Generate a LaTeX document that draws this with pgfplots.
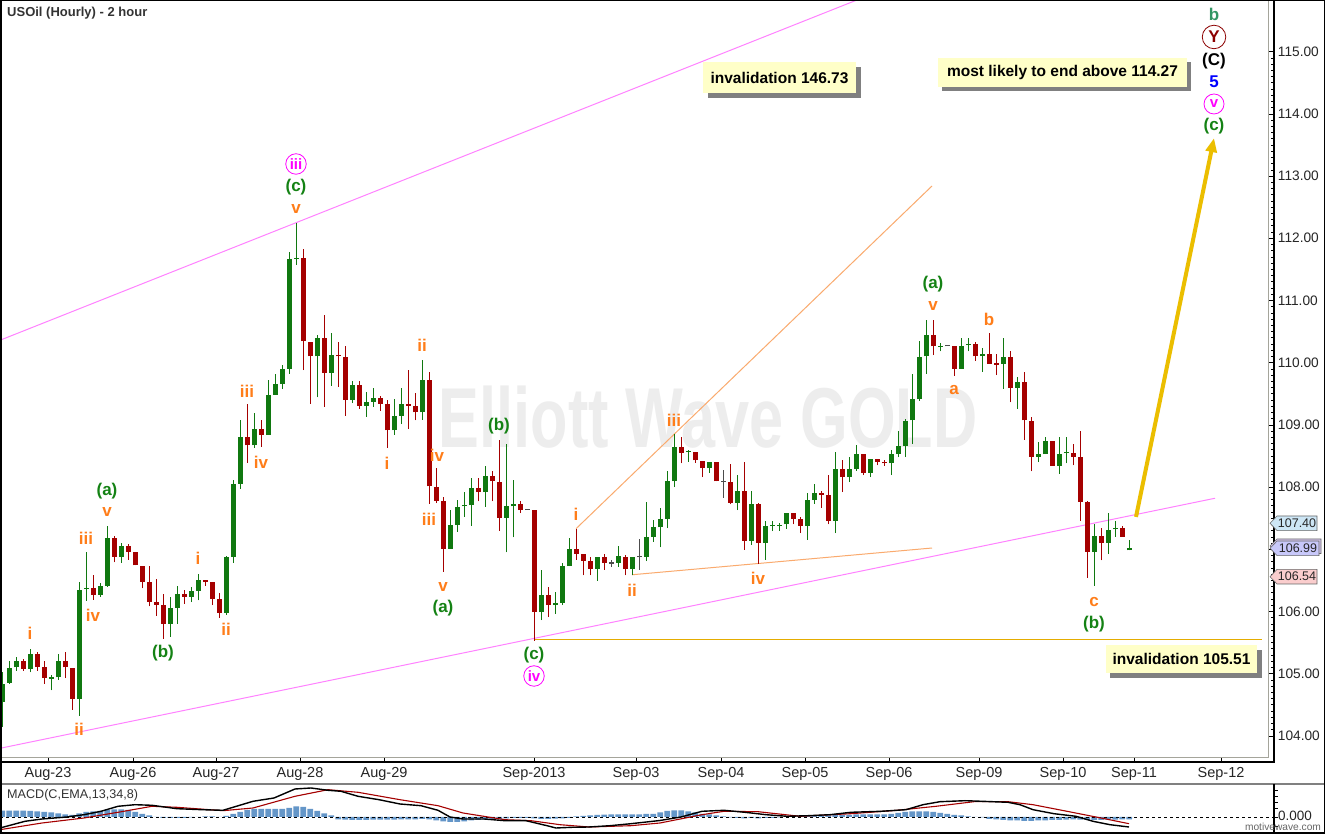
\documentclass[border=0pt]{standalone}
\usepackage{pgfplots}
\pgfplotsset{compat=1.18}
\usepackage{pgfplotstable}
\usepackage{fontspec}
\setmainfont{Liberation Sans}
\usetikzlibrary{arrows.meta}
\definecolor{cgreen}{RGB}{16,120,16}
\definecolor{cred}{RGB}{165,0,0}
\definecolor{wgreen}{RGB}{20,130,20}
\definecolor{worange}{RGB}{255,125,25}
\definecolor{wmag}{RGB}{255,0,255}
\definecolor{chmag}{RGB}{255,130,255}
\definecolor{lorange}{RGB}{250,170,110}
\definecolor{goldc}{RGB}{235,190,0}
\definecolor{goldl}{RGB}{228,172,0}
\definecolor{boxyel}{RGB}{255,255,200}
\definecolor{hist}{RGB}{100,150,200}
\definecolor{framegray}{RGB}{165,165,155}
\definecolor{wteal}{RGB}{50,150,100}
\definecolor{dred}{RGB}{140,0,0}

\pgfplotstableread{
x o h l c
2.3 104.55 105.02 104.15 104.84
9.3 104.85 105.20 104.84 105.09
16.3 105.10 105.26 105.05 105.20
30.3 105.08 105.40 105.02 105.32
51.3 104.92 104.98 104.73 104.94
58.3 104.94 105.32 104.90 105.20
79.3 104.59 106.47 104.32 106.35
86.3 106.36 106.95 106.17 106.38
100.3 106.27 106.45 106.24 106.41
107.3 106.41 107.37 106.40 107.18
121.3 106.88 107.10 106.78 107.05
170.3 105.80 106.24 105.59 106.06
177.3 106.06 106.41 105.80 106.28
191.3 106.24 106.39 106.15 106.33
198.3 106.33 106.61 106.18 106.51
226.3 105.98 106.89 105.95 106.88
233.3 106.88 108.12 106.78 108.05
240.3 108.05 109.08 107.97 108.80
254.3 108.67 109.19 108.63 108.94
268.3 108.84 109.72 108.84 109.48
275.3 109.48 109.82 109.48 109.66
282.3 109.66 109.97 109.58 109.90
289.3 109.90 111.78 109.82 111.67
296.3 111.67 112.25 111.57 111.69
317.3 110.10 110.44 109.44 110.40
331.3 109.84 110.47 109.63 110.12
352.3 109.40 109.71 109.35 109.64
366.3 109.31 109.52 109.13 109.37
373.3 109.37 109.60 109.29 109.43
394.3 108.91 109.41 108.84 109.14
401.3 109.14 109.59 109.01 109.33
422.3 109.20 110.05 109.08 109.72
450.3 107.01 107.63 107.01 107.39
457.3 107.39 107.79 107.28 107.68
464.3 107.69 107.92 107.52 107.71
471.3 107.71 108.14 107.38 107.98
485.3 107.92 108.34 107.68 108.18
506.3 107.51 108.69 106.95 107.69
513.3 107.69 108.12 107.19 107.73
541.3 105.99 106.67 105.86 106.26
555.3 106.10 106.31 105.96 106.14
562.3 106.14 106.78 106.10 106.73
569.3 106.73 107.18 106.73 107.00
597.3 106.69 106.88 106.49 106.88
618.3 106.78 107.06 106.72 106.89
632.3 106.68 106.88 106.58 106.88
646.3 106.88 107.76 106.81 107.20
653.3 107.20 107.47 107.12 107.35
660.3 107.35 107.66 107.03 107.49
667.3 107.49 108.25 107.34 108.09
674.3 108.09 108.85 108.00 108.64
688.3 108.56 108.60 108.41 108.58
709.3 108.30 108.41 108.23 108.40
737.3 107.75 108.19 107.63 107.94
751.3 107.14 107.94 107.07 107.73
765.3 107.10 107.46 106.83 107.37
772.3 107.37 107.45 107.29 107.39
779.3 107.37 107.42 107.30 107.39
786.3 107.40 107.58 107.33 107.58
807.3 107.38 107.91 107.15 107.79
814.3 107.79 108.05 107.73 107.90
835.3 107.46 108.57 107.26 108.29
849.3 108.16 108.49 108.08 108.29
856.3 108.29 108.67 108.26 108.53
870.3 108.23 108.45 108.16 108.45
891.3 108.38 108.59 108.19 108.53
898.3 108.53 108.90 108.48 108.66
905.3 108.66 109.10 108.48 109.06
912.3 109.07 109.82 108.69 109.41
919.3 109.41 110.35 109.39 110.09
926.3 110.10 110.69 109.82 110.44
940.3 110.25 110.32 110.18 110.27
961.3 109.90 110.40 109.90 110.27
968.3 110.28 110.40 110.18 110.30
982.3 110.10 110.24 109.85 110.14
1003.3 109.98 110.40 109.58 110.09
1017.3 109.60 109.77 109.26 109.69
1038.3 108.49 108.72 108.40 108.53
1045.3 108.53 108.81 108.53 108.74
1059.3 108.34 108.81 108.21 108.53
1066.3 108.54 108.81 108.38 108.56
1094.3 106.96 107.41 106.41 107.22
1108.3 107.10 107.58 106.93 107.31
1115.3 107.32 107.45 107.20 107.34
1129.3 106.98 107.15 106.98 107.02
}\greencandles

\pgfplotstableread{
x o h l c
23.3 105.21 105.23 105.05 105.08
37.3 105.32 105.35 105.05 105.11
44.3 105.10 105.20 104.84 104.93
65.3 105.20 105.35 104.93 105.10
72.3 105.09 105.09 104.42 104.59
93.3 106.38 106.59 106.19 106.27
114.3 107.18 107.22 106.79 106.88
128.3 107.05 107.08 106.83 106.96
135.3 106.96 106.96 106.74 106.74
142.3 106.73 106.73 106.37 106.48
149.3 106.47 106.73 106.08 106.16
156.3 106.15 106.52 105.93 106.11
163.3 106.10 106.28 105.56 105.80
184.3 106.28 106.35 106.12 106.24
205.3 106.50 106.50 106.41 106.47
212.3 106.47 106.47 106.10 106.20
219.3 106.20 106.30 105.90 105.98
247.3 108.80 109.34 108.39 108.67
261.3 108.94 109.08 108.65 108.84
303.3 111.69 111.82 109.88 110.34
310.3 110.33 110.33 109.34 110.10
324.3 110.40 110.77 109.29 109.84
338.3 110.13 110.33 109.61 110.10
345.3 110.09 110.27 109.15 109.40
359.3 109.64 109.70 109.26 109.31
380.3 109.43 109.47 109.23 109.34
387.3 109.33 109.40 108.63 108.91
408.3 109.33 109.88 108.93 109.31
415.3 109.30 109.51 109.07 109.20
429.3 109.72 109.85 107.73 108.01
436.3 108.00 108.30 107.74 107.78
443.3 107.78 107.84 106.64 107.01
478.3 107.98 108.15 107.77 107.92
492.3 108.18 108.26 107.77 108.09
499.3 108.08 108.76 107.30 107.51
520.3 107.73 107.77 107.58 107.63
534.3 107.63 107.63 105.53 105.99
548.3 106.26 106.39 105.91 106.10
576.3 107.00 107.33 106.83 106.93
583.3 106.93 106.93 106.58 106.81
590.3 106.81 106.87 106.58 106.69
604.3 106.88 106.92 106.67 106.78
625.3 106.88 106.90 106.58 106.68
681.3 108.64 108.80 108.38 108.55
695.3 108.57 108.57 108.39 108.43
702.3 108.42 108.42 108.16 108.30
716.3 108.40 108.40 108.09 108.09
730.3 108.08 108.37 107.72 107.75
744.3 107.94 108.40 106.99 107.14
758.3 107.73 107.75 106.77 107.10
793.3 107.58 107.58 107.40 107.49
800.3 107.48 107.52 107.26 107.38
821.3 107.90 107.94 107.67 107.88
828.3 107.87 108.20 107.40 107.46
842.3 108.29 108.44 107.92 108.16
863.3 108.53 108.53 108.19 108.23
877.3 108.45 108.45 108.35 108.40
884.3 108.40 108.44 108.34 108.38
933.3 110.44 110.69 110.12 110.26
954.3 110.27 110.27 109.79 109.90
975.3 110.30 110.33 110.03 110.10
989.3 110.14 110.48 109.98 109.98
996.3 109.99 110.14 109.80 109.97
1010.3 110.09 110.19 109.36 109.60
1024.3 109.69 109.85 108.76 109.07
1031.3 109.06 109.13 108.25 108.49
1052.3 108.74 108.74 108.34 108.34
1073.3 108.55 108.69 108.35 108.49
1080.3 108.48 108.90 107.46 107.76
1087.3 107.76 107.77 106.54 106.96
1101.3 107.22 107.34 106.82 107.10
1122.3 107.34 107.38 107.20 107.20
}\redcandles

\pgfplotstableread{
x v h l
527.3 107.63 107.63 107.63
611.3 106.77 106.83 106.72
639.3 106.87 107.16 106.67
723.3 108.08 108.28 107.83
947.3 110.26 110.26 110.26
}\graycandles

\tikzset{
  wl/.style={font=\bfseries\fontsize{17}{17}\selectfont, inner sep=0pt, anchor=center},
  cl/.style={font=\bfseries\fontsize{15}{15}\selectfont, circle, inner sep=0pt, line width=0.8pt},
  bx/.style={font=\bfseries\fontsize{15.5}{16}\selectfont, inner sep=0pt},
}

\begin{document}
\begin{tikzpicture}
\useasboundingbox (0,0) rectangle (1325pt,834pt);
\fill[white] (0,0) rectangle (1325pt,834pt);

% watermark
\begin{scope}[x=1pt,y=-1pt,shift={(0pt,834pt)}]
\node[text=black!7, font=\bfseries\fontsize{85}{85}\selectfont, xscale=0.72, inner sep=0pt] at (708,417) {Elliott Wave GOLD};
\end{scope}

% main price axis
\begin{axis}[
  at={(0pt,72pt)}, anchor=south west,
  width=1274pt, height=762pt, scale only axis,
  xmin=0, xmax=1274, ymin=103.58, ymax=115.83,
  axis line style={black, line width=1.2pt},
  xtick={48,133,216,300,384,534,636,721,805,889,979,1063,1134,1221},
  xticklabels={Aug-23,Aug-26,Aug-27,Aug-28,Aug-29,Sep-2013,Sep-03,Sep-04,Sep-05,Sep-06,Sep-09,Sep-10,Sep-11,Sep-12},
  xtick pos=left,
  ytick={104,105,...,115},
  minor y tick num=9,
  ytick pos=right, yticklabel pos=right,
  tick align=inside,
  major tick length=5pt, minor tick length=3pt,
  tick style={black, line width=0.6pt},
  yticklabel style={font=\fontsize{13.7}{15}\selectfont, text=black!85, anchor=west, inner sep=0pt, xshift=3.7pt,
    /pgf/number format/fixed, /pgf/number format/fixed zerofill, /pgf/number format/precision=2,
    /pgf/number format/assume math mode=true},
  xticklabel style={font=\fontsize{14.5}{15}\selectfont, text=black!85, anchor=base, inner sep=0pt, yshift=-16pt},
]
% channel and guide lines
\addplot[chmag, line width=1pt, forget plot] coordinates {(0,110.36) (857,115.83)};
\addplot[chmag, line width=1pt, forget plot] coordinates {(0,103.80) (1215,107.82)};
\addplot[lorange, line width=1pt, forget plot] coordinates {(576,107.33) (932,112.84)};
\addplot[lorange, line width=1pt, forget plot] coordinates {(632,106.59) (932,107.02)};
\addplot[goldl, line width=1.7pt, forget plot] coordinates {(534,105.55) (1262,105.55)};

% green candles
\addplot[draw=none, forget plot, error bars/.cd, y dir=plus, y explicit, error mark=none,
  error bar style={draw=cgreen, line width=1.3pt}]
  table[x=x, y=l, y error plus expr=\thisrow{h}-\thisrow{l}] {\greencandles};
\addplot[draw=none, forget plot, error bars/.cd, y dir=plus, y explicit, error mark=none,
  error bar style={draw=cgreen, line width=4.6pt}]
  table[x=x, y=o, y error plus expr=\thisrow{c}-\thisrow{o}] {\greencandles};
% red candles
\addplot[draw=none, forget plot, error bars/.cd, y dir=plus, y explicit, error mark=none,
  error bar style={draw=cred, line width=1.3pt}]
  table[x=x, y=l, y error plus expr=\thisrow{h}-\thisrow{l}] {\redcandles};
\addplot[draw=none, forget plot, error bars/.cd, y dir=plus, y explicit, error mark=none,
  error bar style={draw=cred, line width=4.6pt}]
  table[x=x, y=c, y error plus expr=\thisrow{o}-\thisrow{c}] {\redcandles};
% flat candles
\addplot[draw=none, forget plot, error bars/.cd, y dir=plus, y explicit, error mark=none,
  error bar style={draw=black!70, line width=1.3pt}]
  table[x=x, y=l, y error plus expr=\thisrow{h}-\thisrow{l}] {\graycandles};
\addplot[draw=none, forget plot, error bars/.cd, y dir=plus, y explicit, error mark=none,
  error bar style={draw=black!70, line width=4.6pt}]
  table[x=x, y=v, y error plus expr=0.02] {\graycandles};

% projection arrow
\addplot[goldc, line width=4pt, -{Triangle[length=14pt,width=11pt]}, forget plot] coordinates {(1136,107.52) (1214,113.61)};
\end{axis}

% MACD panel
\begin{axis}[
  at={(0pt,1pt)}, anchor=south west,
  width=1274pt, height=49pt, scale only axis,
  xmin=0, xmax=1274, ymin=-16, ymax=33, hide axis,
]
\addplot[ybar, bar width=5.8pt, fill=hist, draw=none] coordinates {
(2.3,6.3) (9.3,6.3) (16.3,6.3) (23.3,6.3) (30.3,6) (37.3,5.5) (44.3,5) (51.3,4.5) (58.3,3.5) (65.3,2.5)
(72.3,2) (79.3,3.5) (86.3,5) (93.3,5.5) (100.3,6) (107.3,7) (114.3,7.5) (121.3,7.5) (128.3,7) (135.3,5)
(142.3,3) (149.3,1.5) (156.3,0) (163.3,-1) (170.3,-1) (177.3,-1) (184.3,-1) (191.3,-0.5) (198.3,0) (205.3,0.5)
(212.3,0.5) (219.3,0) (226.3,1) (233.3,3) (240.3,5) (247.3,7) (254.3,8) (261.3,8) (268.3,8) (275.3,8)
(282.3,8) (289.3,9) (296.3,10.7) (303.3,10) (310.3,8) (317.3,6) (324.3,3.5) (331.3,1.5) (338.3,-2.5) (345.3,-2.7)
(352.3,-3) (359.3,-3) (366.3,-3) (373.3,-2.7) (380.3,-2.7) (387.3,-2.7) (394.3,-2.7) (401.3,-2.5) (408.3,-2.5) (415.3,-2.5)
(422.3,-2) (429.3,-2.5) (436.3,-3.5) (443.3,-4.5) (450.3,-5) (457.3,-5) (464.3,-4.5) (471.3,-3.5) (478.3,-3) (485.3,-2.5)
(492.3,-2) (499.3,-2) (506.3,-1.5) (513.3,-1) (520.3,-1) (527.3,-1) (534.3,-1.5) (541.3,-2) (548.3,-2) (555.3,-1.7)
(562.3,-1.5) (569.3,-1) (576.3,0.5) (583.3,1) (590.3,1.5) (597.3,2) (604.3,2.3) (611.3,2.5) (618.3,2.5) (625.3,2.5)
(632.3,2.5) (639.3,2.7) (646.3,3) (653.3,3) (660.3,4.5) (667.3,6) (674.3,6.5) (681.3,6.5) (688.3,5.5) (695.3,4.5)
(702.3,3) (709.3,2.5) (716.3,1.5) (723.3,0.5) (730.3,-0.5) (737.3,-1) (744.3,-1.5) (751.3,-1) (758.3,-1.5) (765.3,-1)
(772.3,-1) (779.3,-0.5) (786.3,0) (793.3,0.5) (800.3,0.5) (807.3,1) (814.3,1.5) (821.3,1.5) (828.3,1.5) (835.3,2)
(842.3,2) (849.3,2) (856.3,2.5) (863.3,2.5) (870.3,2.5) (877.3,2.5) (884.3,2.5) (891.3,3) (898.3,4) (905.3,5)
(912.3,5.5) (919.3,5.5) (926.3,5.5) (933.3,5) (940.3,4) (947.3,3) (954.3,2) (961.3,1.5) (968.3,0.5) (975.3,0)
(982.3,-0.5) (989.3,-2) (996.3,-2.5) (1003.3,-3) (1010.3,-3.5) (1017.3,-3.5) (1024.3,-4) (1031.3,-4) (1038.3,-3.5) (1045.3,-3.5)
(1052.3,-3) (1059.3,-3) (1066.3,-2.7) (1073.3,-2.5) (1080.3,-2.7) (1087.3,-3) (1094.3,-3) (1101.3,-3) (1108.3,-2.7) (1115.3,-2.7)
(1122.3,-2.5) (1129.3,-2.5)
};
\addplot[black, dashed, dash pattern=on 3pt off 3pt, line width=0.8pt] coordinates {(0,0) (1274,0)};
\addplot[cred, line width=1.1pt, mark=none] coordinates {
(0,-12.7) (42,-6) (84,-1) (118,4.7) (152,10.7) (177,9.7) (223,6.3) (253,9) (295,20.7) (328,27.3) (358,24.7)
(400,17.3) (438,11.3) (463,4) (505,-2.7) (531,-3.7) (560,-7.7) (589,-10) (631,-8.7) (660,-6) (702,2.3)
(724,5.7) (758,5.3) (800,0.7) (851,3.3) (897,6.7) (936,10.7) (974,15.3) (1008,15.3) (1033,12.3) (1067,5.7)
(1101,-1) (1129,-6.7)
};
\addplot[black, line width=1.4pt, mark=none] coordinates {
(0,-11) (25,-4.3) (42,-2) (67,0) (84,2.3) (101,5.7) (118,10.7) (135,12.3) (152,11.7) (177,8.3) (202,7.3)
(223,6.7) (253,15.7) (274,19) (295,28) (311,29) (328,26.7) (341,25.7) (358,20.7) (379,17.3) (400,13) (421,11.3)
(438,6.7) (450,0) (463,-2) (484,-2) (505,-3.7) (526,-3.7) (547,-8.7) (556,-11) (572,-10.3) (589,-10) (610,-8.7)
(631,-6.7) (660,-3.5) (681,0) (702,5.7) (724,6.7) (745,4.7) (766,2.3) (787,0.7) (808,1.3) (830,2.3) (851,4.7)
(881,5.7) (906,7.3) (923,12.3) (940,15.3) (965,16.3) (982,15.7) (1008,14.7) (1020,12.3) (1033,7.3) (1054,3.3)
(1076,0.7) (1093,-4.3) (1110,-7.7) (1129,-10)
};
\end{axis}

% overlays in pixel coordinates
\begin{scope}[x=1pt,y=-1pt,shift={(0pt,834pt)}]
% frames
\draw[framegray, line width=1pt] (1268.5,0) -- (1268.5,757.5) -- (0,757.5);
\draw[black!50, line width=2.5pt] (0,784) -- (1325,784);
\draw[black, line width=1.2pt] (1274,784) -- (1274,834);
\foreach \yy in {790,796,802,808,817,826} {\draw[black, line width=0.6pt] (1274,\yy) -- (1278,\yy);}
\draw[black, line width=1.5pt] (0.75,0.75) rectangle (1324.25,833.25);

% title and panel label
\node[anchor=west, inner sep=0pt, font=\bfseries\fontsize{13}{13}\selectfont, text=black!80] at (7,13) {USOil (Hourly) - 2 hour};
\node[anchor=west, inner sep=0pt, font=\fontsize{12.6}{13}\selectfont, text=black!80] at (7,795) {MACD(C,EMA,13,34,8)};
\node[anchor=west, inner sep=0pt, font=\fontsize{13.5}{14}\selectfont, text=black!85] at (1278,816) {0.000};
\node[inner sep=0pt, font=\fontsize{10.2}{11}\selectfont, text=black!60] at (1283,827) {motivewave.com};

% price markers
\filldraw[fill={rgb,255:red,205;green,230;blue,245}, draw=black!60, line width=0.6pt]
  (1270,523.3) -- (1277,516) -- (1317,516) -- (1317,530.6) -- (1277,530.6) -- cycle;
\node[font=\fontsize{12.5}{13}\selectfont, inner sep=0pt, text=black!85] at (1297,523.3) {107.40};
\filldraw[fill={rgb,255:red,215;green,200;blue,240}, draw=black!60, line width=0.6pt]
  (1270,546) -- (1277,539) -- (1321,539) -- (1321,553.5) -- (1277,553.5) -- cycle;
\filldraw[fill={rgb,255:red,200;green,200;blue,250}, draw=black!60, line width=0.6pt]
  (1270,548.3) -- (1277,541) -- (1319,541) -- (1319,555.6) -- (1277,555.6) -- cycle;
\node[font=\fontsize{12.5}{13}\selectfont, inner sep=0pt, text=black!85] at (1298,548.3) {106.99};
\filldraw[fill={rgb,255:red,250;green,205;blue,205}, draw=black!60, line width=0.6pt]
  (1270,576.7) -- (1277,569.4) -- (1317,569.4) -- (1317,584) -- (1277,584) -- cycle;
\node[font=\fontsize{12.5}{13}\selectfont, inner sep=0pt, text=black!85] at (1297,576.7) {106.54};

% text boxes
\fill[black!50] (708,67) rectangle (861,98);
\fill[boxyel] (703,62) rectangle (856,93);
\node[bx] at (779.5,77.5) {invalidation 146.73};
\fill[black!50] (942,62) rectangle (1191,91);
\fill[boxyel] (938,58) rectangle (1187,87);
\node[bx] at (1062.5,72.5) {most likely to end above 114.27};
\fill[black!50] (1110,650) rectangle (1262,678);
\fill[boxyel] (1106,645) rectangle (1257,673);
\node[bx] at (1181.5,659) {invalidation 105.51};

% orange wave labels
\foreach \xx/\yy/\tt in {30/633/i, 79/729/ii, 86/538/iii, 93/615/iv, 107/512/v, 198/558/i, 226/629/ii,
  247/391/iii, 261/462/iv, 296/209/v, 387/463/i, 422/345/ii, 437/455/iv, 429/519/iii, 443/587/v,
  576/514/i, 632/590/ii, 674/420/iii, 758/578/iv, 933/306/v, 954/390/a, 989/319/b, 1094/602/c}
  {\node[wl, text=worange] at (\xx,\yy) {\tt};}
% green wave labels
\foreach \xx/\yy/\tt in {107/491/(a), 163/653/(b), 296/187/(c), 443/608/(a), 499/426/(b), 534/655/(c),
  933/284/(a), 1094/624/(b), 1214/126/(c)}
  {\node[wl, text=wgreen] at (\xx,\yy) {\tt};}
% circled labels
\node[cl, text=wmag, draw=wmag, minimum size=20.5pt] at (296,164) {iii};
\node[cl, text=wmag, draw=wmag, minimum size=20.5pt] at (534,676) {iv};
\node[cl, text=wmag, draw=wmag, minimum size=20pt] at (1214,104) {v};
\node[cl, text=dred, draw=dred, minimum size=23.5pt, font=\bfseries\fontsize{17}{17}\selectfont] at (1214,37) {Y};
\node[wl, text=wteal] at (1214,14) {b};
\node[wl, text=black] at (1214,61) {(C)};
\node[wl, text=blue] at (1214,82) {5};
\end{scope}
\end{tikzpicture}
\end{document}
